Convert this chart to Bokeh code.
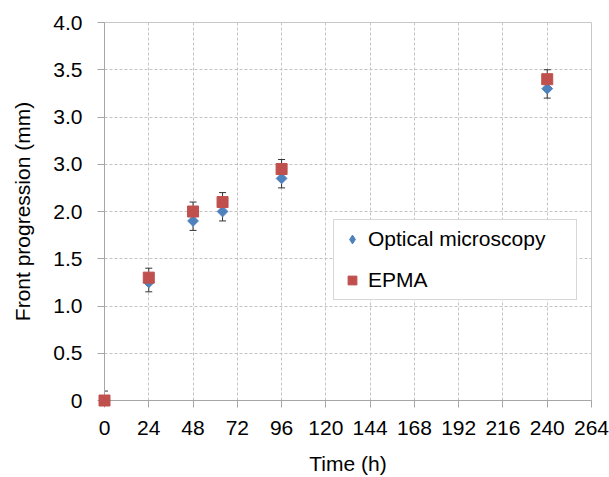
import numpy as np
from bokeh.plotting import figure
from bokeh.models import (ColumnDataSource, Range1d, FixedTicker, Whisker, TeeHead,
                          Legend, LegendItem)
from bokeh.embed import file_html
from bokeh.resources import INLINE

# ---- data ----
time_h = [0, 24, 48, 64, 96, 240]
optical = [0.0, 1.25, 1.90, 2.00, 2.35, 3.30]
epma = [0.0, 1.30, 2.00, 2.10, 2.45, 3.40]
err = [0.1, 0.1, 0.1, 0.1, 0.1, 0.1]

x_ticks = [0, 24, 48, 72, 96, 120, 144, 168, 192, 216, 240, 264]
y_ticks = [0, 0.5, 1.0, 1.5, 2.0, 2.5, 3.0, 3.5, 4.0]
y_tick_labels = ["0", "0.5", "1.0", "1.5", "2.0", "3.0", "3.0", "3.5", "4.0"]

BLUE = "#4F81BD"
RED = "#C0504D"
FONT = "Liberation Sans"
FS = "21px"

src = ColumnDataSource(dict(
    t=time_h,
    opt=optical,
    opt_lo=(np.array(optical) - np.array(err)).tolist(),
    ep=epma,
    ep_hi=(np.array(epma) + np.array(err)).tolist(),
))

p = figure(width=609, height=477, output_backend="svg", toolbar_location=None,
           x_range=Range1d(0, 264), y_range=Range1d(0, 4),
           min_border_left=104, min_border_right=18, min_border_top=22, min_border_bottom=77)
p.background_fill_color = "white"
p.border_fill_color = "white"
p.outline_line_color = "#C8C8C8"

# axes
p.xaxis.ticker = FixedTicker(ticks=x_ticks)
p.yaxis.ticker = FixedTicker(ticks=y_ticks)
p.yaxis.major_label_overrides = {v: s for v, s in zip(y_ticks, y_tick_labels)}
for ax in (p.xaxis, p.yaxis):
    ax.axis_line_color = "#A6A6A6"
    ax.major_tick_line_color = "#A6A6A6"
    ax.major_tick_in = 0
    ax.major_tick_out = 7
    ax.minor_tick_line_color = None
    ax.major_label_text_font = FONT
    ax.major_label_text_font_size = FS
    ax.major_label_text_color = "black"
    ax.axis_label_text_font = FONT
    ax.axis_label_text_font_size = FS
    ax.axis_label_text_font_style = "normal"
    ax.axis_label_text_color = "black"
p.xaxis.axis_label = "Time (h)"
p.yaxis.axis_label = "Front progression (mm)"
p.xaxis.major_label_standoff = 13
p.yaxis.major_label_standoff = 15
p.xaxis.axis_label_standoff = 14
p.yaxis.axis_label_standoff = 16

# grid
for g in (p.xgrid, p.ygrid):
    g.grid_line_color = "#C4C4C4"
    g.grid_line_dash = "3 2"
    g.grid_line_width = 1

# error bars
p.add_layout(Whisker(source=src, base="t", lower="opt_lo", upper="opt", dimension="height",
                     line_color="#333333", line_width=1,
                     lower_head=TeeHead(size=7, line_color="#333333", line_width=1),
                     upper_head=None))
p.add_layout(Whisker(source=src, base="t", lower="ep", upper="ep_hi", dimension="height",
                     line_color="#333333", line_width=1,
                     upper_head=TeeHead(size=7, line_color="#333333", line_width=1),
                     lower_head=None))

# markers
r_opt = p.scatter("t", "opt", source=src, marker="square", angle=np.pi / 4, size=7.6,
                  fill_color=BLUE, line_color=BLUE, level="overlay")
r_ep = p.scatter("t", "ep", source=src, marker="square", size=11,
                 fill_color=RED, line_color=RED, level="overlay")

# legend-only glyphs (NaN position: never drawn in the plot area)
leg_src = ColumnDataSource(dict(x=[np.nan], y=[np.nan]))
leg_opt = p.scatter("x", "y", source=leg_src, marker="diamond", fill_color=BLUE, line_color=BLUE)
leg_ep = p.scatter("x", "y", source=leg_src, marker="square", fill_color=RED, line_color=RED)

legend = Legend(items=[LegendItem(label="Optical microscopy", renderers=[leg_opt]),
                       LegendItem(label="EPMA", renderers=[leg_ep])],
                location=(229, 100), orientation="vertical",
                padding=7, spacing=17, margin=0,
                glyph_width=22, glyph_height=22, label_standoff=5,
                label_width=201, label_height=24,
                label_text_font=FONT, label_text_font_size=FS, label_text_color="black",
                border_line_color="#AFAFAF", border_line_width=1,
                background_fill_color="white", background_fill_alpha=1.0)
p.add_layout(legend, "center")

open("out.html", "w").write(file_html(p, INLINE))
